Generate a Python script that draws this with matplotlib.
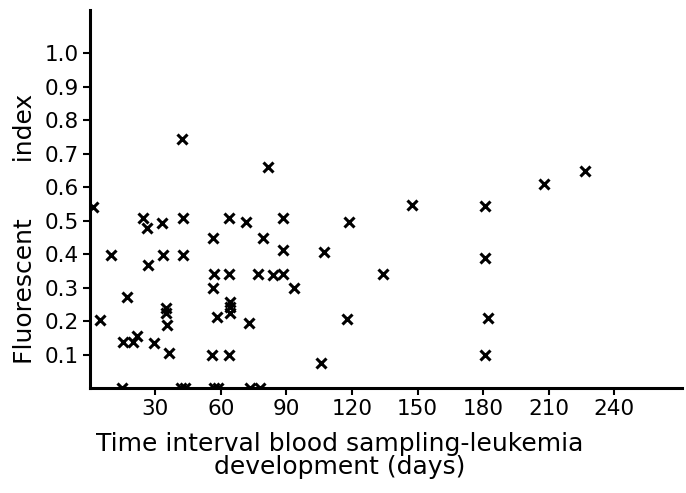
import numpy as np
import matplotlib
matplotlib.use("Agg")
import matplotlib.pyplot as plt

# Days between blood sampling and leukemia development, and fluorescent index
days = [1.5, 4.6, 9.9, 14.5, 16.8, 15.3, 19.8, 21.4, 24.1, 26.0, 26.4, 29.3,
        33.1, 33.3, 34.7, 34.7, 35.1, 36.2, 42.4, 42.7, 42.7, 41.7, 43.7,
        56.5, 56.9, 56.2, 56.0, 58.3, 56.8, 58.8, 63.7, 63.8, 64.1, 64.1, 64.1,
        63.5, 71.3, 73.0, 73.3, 77.9, 77.1, 79.4, 81.7, 83.7, 88.3, 88.3, 88.3,
        93.4, 105.7, 107.2, 118.6, 117.9, 134.0, 147.6, 180.9, 180.9, 182.1,
        180.9, 207.9, 226.7]
index = [0.541, 0.203, 0.397, 0.0, 0.273, 0.138, 0.138, 0.155, 0.507, 0.477,
         0.367, 0.135, 0.492, 0.397, 0.238, 0.223, 0.188, 0.105, 0.745, 0.507,
         0.397, 0.0, 0.0, 0.447, 0.342, 0.298, 0.099, 0.213, 0.0, 0.0, 0.507,
         0.342, 0.258, 0.243, 0.223, 0.099, 0.497, 0.193, 0.0, 0.0, 0.342,
         0.447, 0.661, 0.337, 0.507, 0.412, 0.342, 0.298, 0.074, 0.407, 0.497,
         0.206, 0.340, 0.546, 0.543, 0.387, 0.208, 0.099, 0.611, 0.649]

x_ticks = [30, 60, 90, 120, 150, 180, 210, 240]
y_ticks = [0.1, 0.2, 0.3, 0.4, 0.5, 0.6, 0.7, 0.8, 0.9, 1.0]

fig = plt.figure(figsize=(6.86, 4.93), dpi=100)
ax = fig.add_axes([0.131, 0.213, 0.863, 0.767])

ax.plot(days, index, linestyle="none", marker="x", color="black",
        markersize=7.5, markeredgewidth=2.2)

ax.set_xlim(0, 271)
ax.set_ylim(0, 1.13)
ax.set_xticks(x_ticks)
ax.set_yticks(y_ticks)
ax.set_yticklabels([f"{v:.1f}" for v in y_ticks])

for s in ["top", "right"]:
    ax.spines[s].set_visible(False)
for s in ["left", "bottom"]:
    ax.spines[s].set_linewidth(2.2)

ax.tick_params(axis="both", direction="out", length=5, width=1.5,
               labelsize=15.5, pad=3)

ax.set_xlabel("Time interval blood sampling-leukemia\ndevelopment (days)",
              fontsize=18, linespacing=0.95)
ax.xaxis.set_label_coords(0.422, -0.117)
ax.set_ylabel("Fluorescent       index", fontsize=18)
ax.yaxis.set_label_coords(-0.09, 0.42)

fig.savefig("out.png", dpi=100)
